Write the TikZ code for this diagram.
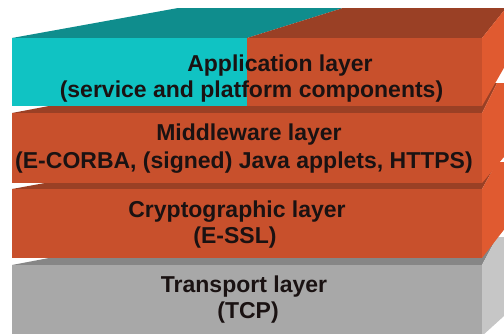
\documentclass[tikz,border=0pt]{standalone}
\usepackage{fontspec}
\setmainfont{Liberation Sans}
\definecolor{tealF}{HTML}{10C3C3}
\definecolor{tealT}{HTML}{0F8D8D}
\definecolor{orF}{HTML}{C8502C}
\definecolor{orT}{HTML}{9A4025}
\definecolor{orS}{HTML}{E05A30}
\definecolor{grF}{HTML}{A8A8A8}
\definecolor{grT}{HTML}{868686}
\definecolor{grS}{HTML}{C6C6C6}
\definecolor{txt}{HTML}{1A1212}
\begin{document}
\begin{tikzpicture}[x=1pt,y=-1pt,
  lbl/.style={anchor=base, font=\fontsize{23}{27}\selectfont\bfseries, inner sep=0pt, text=txt}]
\useasboundingbox (0,0) rectangle (504,333);
\begin{scope}
\clip (0,0) rectangle (504,333);
% Transport layer slab
\fill[grT] (12,265) -- (482,265) -- (497,237) -- (160,237) -- cycle;
\fill[grS] (482,265) -- (497,237) -- (520,237) -- (520,301.5) -- (482,336) -- cycle;
\fill[grF] (12,265) rectangle (482,345);
% Cryptographic layer slab
\fill[orT] (12,189) -- (482,189) -- (497,162) -- (160,162) -- cycle;
\fill[orS] (482,189) -- (497,162) -- (520,162) -- (520,209) -- (482,258) -- cycle;
\fill[orF] (12,189) rectangle (482,258);
% Middleware layer slab
\fill[orT] (12,113) -- (482,113) -- (497,83) -- (170,83) -- cycle;
\fill[orS] (482,113) -- (497,83) -- (520,83) -- (520,138) -- (482,183) -- cycle;
\fill[orF] (12,113) rectangle (482,183);
% Application layer slab
\fill[tealT] (12,38) -- (247,38) -- (343,8) -- (178,8) -- cycle;
\fill[orT] (247,38) -- (482,38) -- (506,8) -- (343,8) -- cycle;
\fill[orS] (482,38) -- (506,8) -- (520,8) -- (520,40) -- (482,106) -- cycle;
\fill[tealF] (12,38) rectangle (247,106);
\fill[orF] (247,38) rectangle (482,106);
\end{scope}
% Labels
\node[lbl] (app1) at (280,71) {Application layer};
\node[lbl] (app2) at (251.5,97) {(service and platform components)};
\node[lbl] (mid1) at (249,140.5) {Middleware layer};
\node[lbl] (mid2) at (244,168.5) {(E-CORBA, (signed) Java applets, HTTPS)};
\node[lbl] (cry1) at (237,217) {Cryptographic layer};
\node[lbl] (cry2) at (235,243) {(E-SSL)};
\node[lbl] (tra1) at (244,292) {Transport layer};
\node[lbl] (tra2) at (248,318) {(TCP)};
\end{tikzpicture}
\end{document}
